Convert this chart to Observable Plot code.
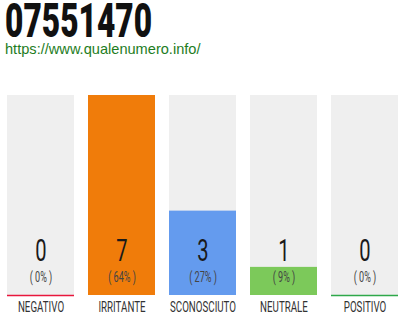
<!DOCTYPE html>
<html><head><meta charset="utf-8">
<script src="https://cdn.jsdelivr.net/npm/d3@7"></script>
<script src="https://cdn.jsdelivr.net/npm/@observablehq/plot@0.6"></script>
<style>
body{margin:0;background:#fff;width:410px;height:320px;overflow:hidden;}
#title{height:40px;margin:0 0 0 5px;overflow:visible;white-space:nowrap;}
#title span{display:inline-block;font-family:Roboto,"DejaVu Sans",sans-serif;font-weight:900;font-size:48px;line-height:42px;color:#111;transform-origin:0 0;}
#sub{font-family:"Liberation Sans",Arial,sans-serif;font-size:14.6px;line-height:18px;height:18px;margin:0 0 0 5px;color:#1e7d1e;}
</style></head><body>
<div id="title"><span>07551470</span></div>
<div id="sub">https://www.qualenumero.info/</div>
<div id="chart"></div>
<script>
const categories = ["NEGATIVO","IRRITANTE","SCONOSCIUTO","NEUTRALE","POSITIVO"];
const counts = [0,7,3,1,0];
const percents = [0,64,27,9,0];
const colors = ["#e8173c","#f07c0a","#649bee","#7cc95a","#2ea84a"];

const data = categories.map((c,i)=>({cat:c,count:counts[i],pct:percents[i],color:colors[i]}));
const maxPct = d3.max(percents);

const chart = Plot.plot({
  width:410, height:262,
  marginLeft:5, marginRight:9, marginTop:37, marginBottom:25,
  x:{domain:categories, paddingInner:0.1707, paddingOuter:0, axis:null},
  y:{domain:[0,maxPct], axis:null},
  style:{fontFamily:"Roboto,'DejaVu Sans',sans-serif", background:"#fff"},
  marks:[
    Plot.barY(data,{x:"cat", y:()=>maxPct, fill:"#efefef"}),
    Plot.barY(data.filter(d=>d.pct>0),{x:"cat", y:"pct", fill:"color"}),
    Plot.tickY(data.filter(d=>d.pct===0),{x:"cat", y:0, stroke:"color", strokeWidth:1.5}),
    Plot.text(data,{x:"cat", y:0, text:d=>String(d.count), dy:-44, fontSize:31, fill:"#1a1a1a", fontWeight:400, lineAnchor:"middle"}),
    Plot.text(data,{x:"cat", y:0, text:d=>`( ${d.pct}% )`, dy:-18, fontSize:14, fill:"#444", fontWeight:400, lineAnchor:"middle"}),
    Plot.text(data,{x:"cat", y:0, text:"cat", dy:12, fontSize:15, fill:"#333", fontWeight:400, lineAnchor:"middle"})
  ]
});
document.getElementById("chart").appendChild(chart);

// condense text horizontally (narrow typeface look)
chart.querySelectorAll('g[aria-label="text"] text').forEach(t=>{
  const tr = t.getAttribute("transform") || "";
  t.setAttribute("transform", (tr + " scale(0.65,1)").trim());
});
const ts = document.querySelector("#title span");
const w = ts.getBoundingClientRect().width;
ts.style.transform = `scaleX(${147/w})`;
</script>
</body></html>
